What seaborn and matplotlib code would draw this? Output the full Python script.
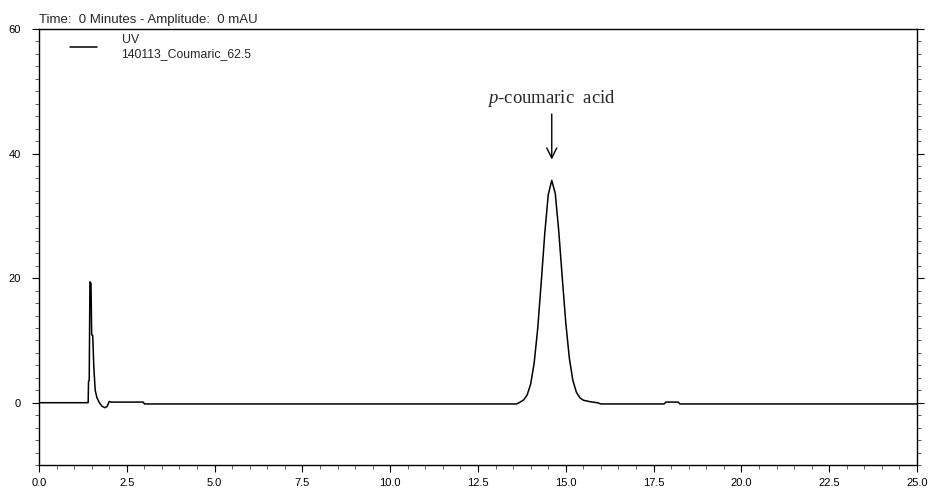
import matplotlib
matplotlib.use("Agg")
import matplotlib.pyplot as plt
import seaborn as sns
import pandas as pd
from matplotlib.ticker import MultipleLocator

# Retention time (min) and amplitude (mAU)
time_min = [0.00, 0.50, 1.00, 1.38, 1.40, 1.41, 1.43, 1.45, 1.48, 1.50, 1.53, 1.56, 1.60,
            1.65, 1.72, 1.80, 1.88, 1.94, 2.00, 2.05, 2.50, 2.97, 3.00, 5.00, 8.00, 11.0,
            13.6, 13.7, 13.8, 13.9, 14.0, 14.1, 14.2, 14.3, 14.4, 14.5, 14.6, 14.7, 14.8,
            14.9, 15.0, 15.1, 15.2, 15.3, 15.4, 15.5, 15.7, 15.9, 16.0, 17.0, 17.8, 17.85,
            18.2, 18.25, 20.0, 22.5, 25.0]
amplitude = [0.0, 0.0, 0.0, 0.0, 0.0, 3.4, 3.6, 19.4, 19.2, 10.9, 10.8, 5.8, 2.0,
             0.8, 0.0, -0.6, -0.8, -0.6, 0.2, 0.1, 0.1, 0.1, -0.2, -0.2, -0.2, -0.2,
             -0.2, 0.1, 0.45, 1.25, 3.0, 6.4, 11.9, 19.3, 27.1, 33.4, 35.7, 33.6, 27.5,
             20.0, 12.8, 7.2, 3.6, 1.7, 0.8, 0.4, 0.15, 0.0, -0.2, -0.2, -0.2, 0.1,
             0.1, -0.2, -0.2, -0.2, -0.2]

x_ticks = [0.0, 2.5, 5.0, 7.5, 10.0, 12.5, 15.0, 17.5, 20.0, 22.5, 25.0]
y_ticks = [0, 20, 40, 60]
peak_label_time = 14.6

df = pd.DataFrame({"Time": time_min, "Amplitude": amplitude})

sns.set_style("ticks")
plt.rcParams["font.family"] = ["Liberation Sans", "DejaVu Sans"]
plt.rcParams["mathtext.fontset"] = "custom"
plt.rcParams["mathtext.it"] = "Liberation Serif:italic"
plt.rcParams["mathtext.rm"] = "Liberation Serif"

fig = plt.figure(figsize=(9.32, 4.91), dpi=100)
ax = fig.add_axes([39 / 932, 1 - 465 / 491, (917 - 39) / 932, (465 - 29) / 491])

sns.lineplot(data=df, x="Time", y="Amplitude", ax=ax, color="black", linewidth=1.1,
             label="UV\n140113_Coumaric_62.5", sort=False)

ax.set_xlim(0, 25)
ax.set_ylim(-10, 60)
ax.set_xticks(x_ticks)
ax.set_xticklabels([f"{v:.1f}" for v in x_ticks])
ax.set_yticks(y_ticks)
ax.xaxis.set_minor_locator(MultipleLocator(0.5))
ax.yaxis.set_minor_locator(MultipleLocator(2))
ax.set_xlabel("")
ax.set_ylabel("")
for s in ax.spines.values():
    s.set_visible(True)
    s.set_color("black")
    s.set_linewidth(1.0)
ax.tick_params(axis="both", which="major", length=5, width=0.8, labelsize=8, colors="black")
ax.tick_params(axis="both", which="minor", length=3, width=0.6, colors="#444444")
ax.tick_params(axis="y", which="both", right=True)
ax.tick_params(axis="y", which="major", pad=8)
ax.tick_params(axis="x", which="major", pad=4)

leg = ax.legend(loc="upper left", frameon=False, fontsize=8.8, handlelength=2.2,
                handletextpad=2.0, borderaxespad=0.0, bbox_to_anchor=(0.03, 1.0),
                labelspacing=0.2)

ax.set_title("Time:  0 Minutes - Amplitude:  0 mAU", loc="left", fontsize=9.5, pad=4)

ax.annotate("", xy=(peak_label_time, 38.6), xytext=(peak_label_time, 46.8),
            arrowprops=dict(arrowstyle="->", color="black", lw=1.0, mutation_scale=18))
ax.text(peak_label_time, 48.9, r"$p$-coumaric  acid", ha="center", va="center",
        fontsize=13.5, family="Liberation Serif")

fig.savefig("out.png", dpi=100)
